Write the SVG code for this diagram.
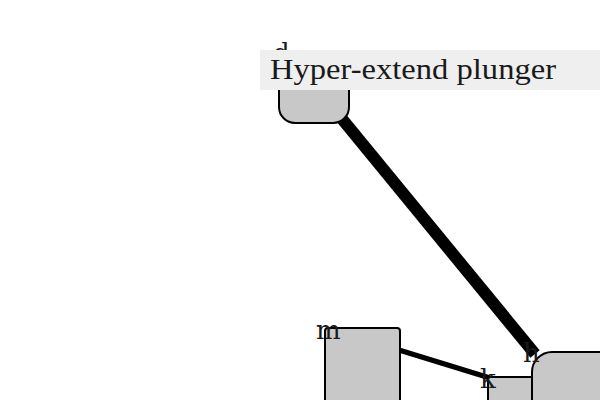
<svg xmlns="http://www.w3.org/2000/svg" width="600" height="400" viewBox="0 0 600 400">
<style>
.node{fill:#c8c8c8;stroke:#000;stroke-width:2}
.lbl{font-family:"DejaVu Serif","Liberation Serif",serif;font-size:26px;fill:#1a1a1a}
.edge{stroke:#000;fill:none}
</style>
<rect width="600" height="400" fill="#fff"/>
<g id="connectors">
<line class="edge" x1="338" y1="114" x2="535" y2="354" stroke-width="12"/>
<line class="edge" x1="399" y1="350" x2="490" y2="378" stroke-width="5"/>
</g>
<g id="node-d">
<rect class="node" x="279" y="58" width="70" height="65" rx="16"/>
<text class="lbl" x="273" y="62">d</text>
</g>
<g id="node-m">
<rect class="node" x="325" y="328" width="75" height="90" rx="3"/>
<text class="lbl" x="316" y="339">m</text>
</g>
<g id="node-k">
<rect class="node" x="488" y="377" width="50" height="40" rx="2"/>
<text class="lbl" x="480" y="388">k</text>
</g>
<g id="node-h">
<rect class="node" x="532" y="352" width="90" height="70" rx="20"/>
<text class="lbl" x="523" y="362">h</text>
</g>
<g id="title">
<rect x="260" y="50" width="340" height="40" fill="#efefef"/>
<text x="270" y="79" font-family="Liberation Serif, DejaVu Serif, serif" font-size="29" fill="#1a1a1a" textLength="286" lengthAdjust="spacingAndGlyphs">Hyper-extend plunger</text>
</g>
</svg>
